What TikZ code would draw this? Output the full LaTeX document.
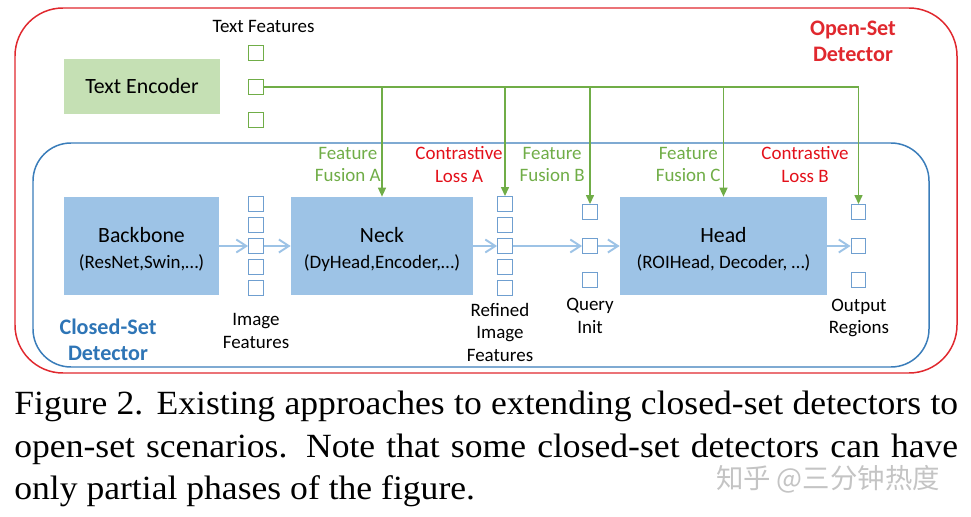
\documentclass[tikz,border=0pt]{standalone}
\usepackage{fontspec}
\setmainfont{Liberation Serif}
\newfontfamily\calfont{Carlito}
\newfontfamily\capfont[FakeStretch=1.05]{Liberation Serif}
\newfontfamily\cjkfont{Noto Sans CJK SC}
\usetikzlibrary{arrows.meta,calc,positioning}
\definecolor{openred}{HTML}{E0282E}
\definecolor{lossred}{HTML}{E3101A}
\definecolor{closedblue}{HTML}{2E75B6}
\definecolor{frameblue}{HTML}{3A7DBA}
\definecolor{fusegreen}{HTML}{70AD47}
\definecolor{encgreen}{HTML}{C5E0B4}
\definecolor{modblue}{HTML}{9DC3E6}
\definecolor{cellblue}{HTML}{6F9FD0}
\definecolor{wmgray}{HTML}{C4C4C4}
\newcommand{\bigtxt}{\calfont\fontsize{12.4}{14.7}\selectfont}
\newcommand{\smalltxt}{\calfont\fontsize{10.8}{12.8}\selectfont}
\tikzset{
  lbl/.style={font=\smalltxt,align=center,inner sep=0pt,text=black},
  fuselbl/.style={lbl,text=fusegreen},
  losslbl/.style={lbl,text=lossred},
  detlbl/.style={font=\calfont\bfseries\fontsize{12.6}{14.7}\selectfont,align=center,inner sep=0pt},
  module/.style={fill=modblue,minimum height=1.96cm,inner sep=0pt,align=center,font=\bigtxt,
                 text height=0.9cm,text depth=0pt},
  cell/.style={draw=cellblue,line width=0.8pt,fill=white,minimum size=0.29cm,inner sep=0pt},
  tcell/.style={cell,draw=fusegreen},
  flow/.style={-{Straight Barb[length=2mm,width=2.6mm]},line width=1.1pt,draw=modblue},
  fuse/.style={-{Triangle[length=1.8mm,width=1.6mm]},line width=0.8pt,draw=fusegreen},
  frame/.style={rounded corners=#1,line width=0.85pt}
}
\begin{document}
\begin{tikzpicture}[x=0.02cm,y=-0.02cm]
  \useasboundingbox (0,0) rectangle (971,517);
  \draw[frame=0.96cm,draw=openred] (15,8) rectangle (957,373);
  \draw[frame=0.76cm,draw=frameblue] (33,143) rectangle (929,367);
  \node[detlbl,text=openred] (openlbl) at (853,41) {Open-Set\\Detector};
  \node[detlbl,text=closedblue] (closedlbl) at (108,340) {Closed-Set\\Detector};

  \node[fill=encgreen,minimum width=3.12cm,minimum height=1.1cm,font=\bigtxt] (enc) at (142,86.5) {Text Encoder};
  \node[lbl] (tflbl) at (263.5,26) {Text Features};
  \foreach \i/\y in {1/53,2/87,3/120} \node[tcell] (tf\i) at (256,\y) {};

  \node[module,minimum width=3.1cm] (backbone) at (141.5,246) {Backbone\\{\smalltxt (ResNet,Swin,…)}};
  \node[module,minimum width=3.64cm] (neck) at (382,246) {Neck\\{\smalltxt (DyHead,Encoder,…)}};
  \node[module,minimum width=4.14cm] (head) at (723.5,246) {Head\\{\smalltxt (ROIHead, Decoder, …)}};
  \foreach \i/\y in {1/204,2/225,3/246,4/267,5/288} {
    \node[cell] (img\i) at (256,\y) {};
    \node[cell] (ref\i) at (505,\y) {};
  }
  \foreach \i/\y in {1/212,2/246,3/280} {
    \node[cell] (qry\i) at (590,\y) {};
    \node[cell] (out\i) at (858.5,\y) {};
  }
  \node[lbl] (imglbl) at (256,331) {Image\\Features};
  \node[lbl] (reflbl) at (500,332) {Refined\\Image\\Features};
  \node[lbl] (qrylbl) at (590,316) {Query\\Init};
  \node[lbl] (outlbl) at (859,318) {Output\\Regions};

  \node[fuselbl,anchor=east] (fusA) at (381,164.5) {Feature\\Fusion A};
  \node[losslbl,anchor=east] (lossA) at (503,164.5) {Contrastive\\Loss A};
  \node[fuselbl,anchor=east] (fusB) at (585,164.5) {Feature\\Fusion B};
  \node[fuselbl,anchor=east] (fusC) at (721,164.5) {Feature\\Fusion C};
  \node[losslbl,anchor=east] (lossB) at (849,164.5) {Contrastive\\Loss B};

  \draw[flow] (backbone) -- (img3); \draw[flow] (img3) -- (neck); \draw[flow] (neck) -- (ref3);
  \draw[flow] (ref3) -- (qry2); \draw[flow] (qry2) -- (head); \draw[flow] (head) -- (out2);
  \draw[fusegreen,line width=0.8pt] (tf2.east) -- (tf2.east -| out1.north);
  \foreach \t in {neck,ref1,qry1,head,out1} \draw[fuse] (tf2.east -| \t.north) -- (\t.north);

  \node[anchor=north west,text width=18.88cm,align=justify,inner sep=0pt,font=\capfont\fontsize{19.3}{24.1}\selectfont] (caption) at (14,391)
    {Figure 2. Existing approaches to extending closed-set detectors to\linebreak open-set scenarios.  Note that some closed-set detectors can have\linebreak only partial phases of the figure.};
  \node[font=\cjkfont\fontsize{15.6}{15.6}\selectfont,text=wmgray,inner sep=0pt] (mark) at (828,479) {知乎 @三分钟热度};
\end{tikzpicture}
\end{document}
